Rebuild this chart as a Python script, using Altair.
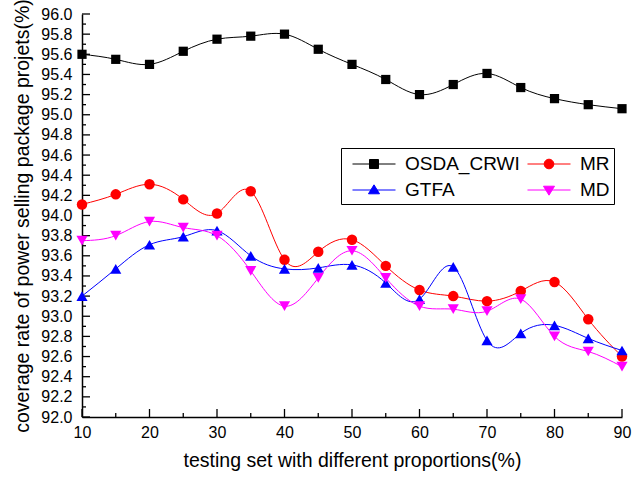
import altair as alt
import pandas as pd

# ---- data ----
x_vals = [10, 15, 20, 25, 30, 35, 40, 45, 50, 55, 60, 65, 70, 75, 80, 85, 90]
osda_crwi = [95.60, 95.55, 95.50, 95.63, 95.75, 95.78, 95.80, 95.65, 95.50, 95.35, 95.20, 95.30, 95.41, 95.27, 95.16, 95.10, 95.06]
mr = [94.11, 94.21, 94.31, 94.16, 94.02, 94.24, 93.56, 93.64, 93.76, 93.50, 93.26, 93.20, 93.15, 93.25, 93.34, 92.97, 92.60]
gtfa = [93.20, 93.47, 93.71, 93.79, 93.85, 93.60, 93.47, 93.48, 93.51, 93.33, 93.17, 93.49, 92.76, 92.83, 92.91, 92.78, 92.66]
md = [93.75, 93.80, 93.94, 93.88, 93.80, 93.45, 93.10, 93.38, 93.65, 93.38, 93.10, 93.07, 93.05, 93.17, 92.80, 92.65, 92.50]

series_names = ["OSDA_CRWI", "MR", "GTFA", "MD"]
series_colors = ["#000000", "#FF0000", "#0000FF", "#FF00FF"]
series_shapes = ["square", "circle", "triangle-up", "triangle-down"]
series_sizes = [85, 110, 125, 125]

y_major = [92.0, 92.2, 92.4, 92.6, 92.8, 93.0, 93.2, 93.4, 93.6, 93.8, 94.0,
           94.2, 94.4, 94.6, 94.8, 95.0, 95.2, 95.4, 95.6, 95.8, 96.0]
y_minor = [92.1, 92.3, 92.5, 92.7, 92.9, 93.1, 93.3, 93.5, 93.7, 93.9,
           94.1, 94.3, 94.5, 94.7, 94.9, 95.1, 95.3, 95.5, 95.7, 95.9]
x_major = [10, 20, 30, 40, 50, 60, 70, 80, 90]
x_minor = [15, 25, 35, 45, 55, 65, 75, 85]

x_title = "testing set with different proportions(%)"
y_title = "coverage rate of power selling package projets(%)"

# legend symbols: a line with the marker in the middle
legend_paths = [
    "M-1.87,0H1.87M-0.39,-0.39H0.39V0.39H-0.39Z",
    "M-1.87,0H1.87M0.42,0A0.42,0.42,0,1,1,-0.42,0A0.42,0.42,0,1,1,0.42,0Z",
    "M-1.87,0H1.87M0,-0.45L0.48,0.33L-0.48,0.33Z",
    "M-1.87,0H1.87M0,0.45L0.48,-0.33L-0.48,-0.33Z",
]

rows = []
for name, vals in zip(series_names, [osda_crwi, mr, gtfa, md]):
    for xv, yv in zip(x_vals, vals):
        rows.append({"series": name, "x": xv, "y": yv})
df = pd.DataFrame(rows)

FONT = "Liberation Sans"
W, H = 540, 403

xscale = alt.Scale(domain=[10, 90], nice=False, zero=False)
yscale = alt.Scale(domain=[92, 96], nice=False, zero=False)
cscale = alt.Scale(domain=series_names, range=series_colors)

xaxis = alt.Axis(values=x_major, ticks=False, tickSize=0, grid=False, domainColor="black",
                 domainWidth=1.5, labelFontSize=16, labelFont=FONT, labelColor="black",
                 labelPadding=7, labelFlush=False, labelOverlap=False, title=x_title,
                 titleFont=FONT, titleFontSize=19.5, titleFontWeight="normal",
                 titleColor="black", titlePadding=11)
yaxis = alt.Axis(values=y_major, format=".1f", ticks=False, tickSize=0, grid=False,
                 domainColor="black", domainWidth=1.5, labelFontSize=16, labelFont=FONT,
                 labelColor="black", labelPadding=10, labelOverlap=False, title=y_title,
                 titleFont=FONT, titleFontSize=19.5, titleFontWeight="normal",
                 titleColor="black", titlePadding=8)

X = alt.X("x:Q", scale=xscale, axis=xaxis)
Y = alt.Y("y:Q", scale=yscale, axis=yaxis)

layers = []

# inward tick marks
ymaj_df = pd.DataFrame({"y": y_major})
ymin_df = pd.DataFrame({"y": y_minor})
xmaj_df = pd.DataFrame({"x": x_major})
xmin_df = pd.DataFrame({"x": x_minor})
layers.append(alt.Chart(ymaj_df).mark_rule(color="black", strokeWidth=1.3).encode(
    y=Y, x=alt.value(0), x2=alt.value(8)))
layers.append(alt.Chart(ymin_df).mark_rule(color="black", strokeWidth=1.3).encode(
    y=Y, x=alt.value(0), x2=alt.value(4)))
layers.append(alt.Chart(xmaj_df).mark_rule(color="black", strokeWidth=1.3).encode(
    x=X, y=alt.value(H), y2=alt.value(H - 8)))
layers.append(alt.Chart(xmin_df).mark_rule(color="black", strokeWidth=1.3).encode(
    x=X, y=alt.value(H), y2=alt.value(H - 4)))

# series: line + markers
for name, col, shp, sz in zip(series_names, series_colors, series_shapes, series_sizes):
    base = alt.Chart(df).transform_filter(alt.datum.series == name)
    layers.append(base.mark_line(interpolate="natural", strokeWidth=1, color=col).encode(x=X, y=Y))
    layers.append(base.mark_point(filled=True, opacity=1, shape=shp, size=sz, color=col).encode(x=X, y=Y))

# legend carrier (invisible marks)
leg_kw = dict(
    title=None, orient="none", legendX=259, legendY=134, columns=2, direction="horizontal",
    symbolSize=529, symbolStrokeWidth=1, symbolOpacity=1, symbolOffset=17,
    labelFont=FONT, labelFontSize=19, labelColor="black", labelOffset=19, labelLimit=300,
    padding=4, strokeColor="black", fillColor="white", columnPadding=0, rowPadding=4,
)
layers.append(alt.Chart(df).mark_point(filled=True, opacity=0).encode(
    x=X, y=Y,
    fill=alt.Fill("series:N", scale=cscale, legend=alt.Legend(**leg_kw)),
    stroke=alt.Stroke("series:N", scale=cscale, legend=alt.Legend(**leg_kw)),
    shape=alt.Shape("series:N", scale=alt.Scale(domain=series_names, range=legend_paths),
                    legend=alt.Legend(**leg_kw)),
))

chart = alt.layer(*layers).properties(
    width=W, height=H,
    autosize=alt.AutoSizeParams(type="none"),
    padding={"left": 82, "top": 14, "right": 10, "bottom": 62},
    background="white",
).configure_view(stroke=None)

chart.save("out.html", embed_options={"renderer": "svg", "actions": False})
